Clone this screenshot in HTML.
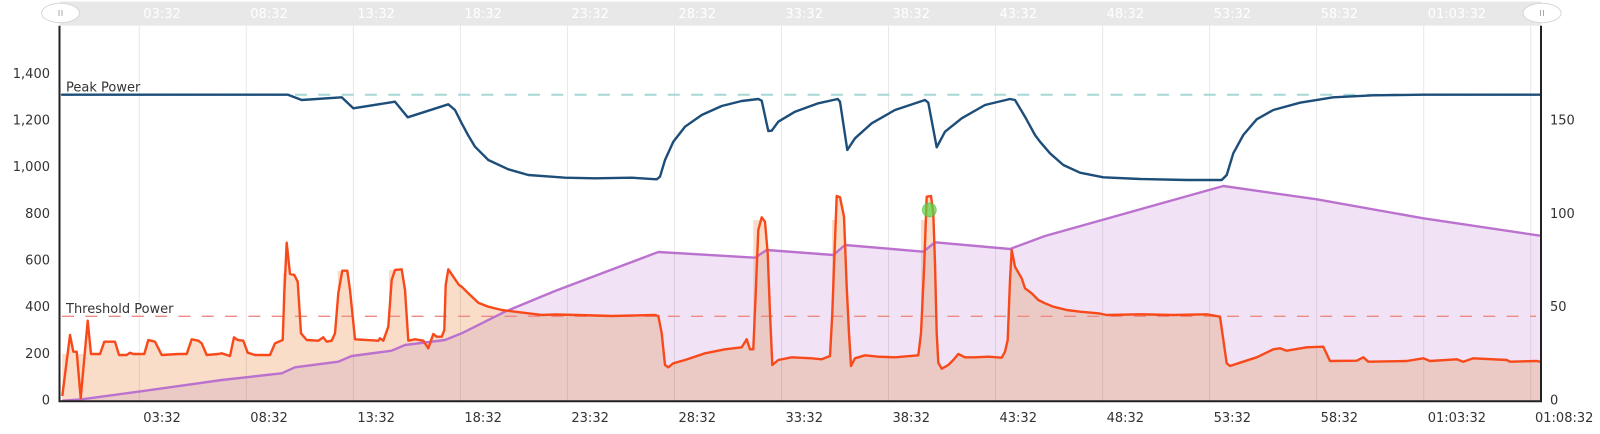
<!DOCTYPE html>
<html>
<head>
<meta charset="utf-8">
<style>
  html,body{margin:0;padding:0;background:#fff;}
  body{width:1600px;height:434px;overflow:hidden;}
  svg{display:block;}
  text{font-family:"DejaVu Sans","Liberation Sans",sans-serif;font-size:13px;}
</style>
</head>
<body>
<svg width="1600" height="434" viewBox="0 0 1600 434" xmlns="http://www.w3.org/2000/svg">
  <defs>
    <clipPath id="purpleClip">
      <polygon points="62.3,400.7 81.7,399.3 138.3,391.7 221.7,380 281.7,373.3 295,367.3 338.3,361.7 351.7,356 391.7,350.7 405,345 445,340 461.7,333.3 505,311.7 555,291 658.3,252 755,257.7 766.7,250 833.3,255 845,245 923.3,251.7 935,242.3 1010,249 1045,236 1223.3,186 1316.7,199.3 1423.3,218.3 1540,235.7 1540,401 62.3,401"/>
    </clipPath>
    <g id="peachShapes">
      <polygon points="62.3,396 70,335 73.3,351.7 76.7,351.7 80.7,398.3 87.7,320.7 91,354 100,354 104.3,341.7 115,341.7 119,355 126.7,355 130,352.7 133.3,354 144.3,354 148.3,340 155,341.7 161.7,355 178.3,354 186.7,354 191.7,339.3 198.3,340.7 201.7,343.3 206.7,355 218.3,354 221.7,353.3 230,356 234,337.3 237.7,340 243.3,340.7 247.7,352.7 255,355 270,355 275,343.3 282.7,340 284.3,293.3 286.7,242.7 290,274 294.3,275 297.7,281.7 301,333.3 306.7,340 318.3,340.7 323.3,337.3 326.7,341.7 331.7,340.7 335,333.3 338.3,293.3 342.3,270.7 347.3,270.7 350,290 355,339.3 378.3,340.7 380,338.3 383.3,340.7 388.3,326.7 391.7,280 395,270 401.7,269.3 405,290 408.3,340.7 415,339.3 423.3,340.7 428.3,348.3 433.3,334 436.7,336.7 441.7,336.7 444.3,330 445.7,285 448.3,269.3 453.3,276.7 459,285 461.7,286.7 468.3,293.3 478.3,302.7 488.3,306.7 501.7,310 515,311.7 528.3,313.3 541.7,315 555,314.5 578.3,315 611.7,316 655,315 658.3,316 661.7,333.3 665,365 668.3,367.3 673.3,363.3 685,360 705,353.3 725,349.3 741.7,347.3 746.7,339.3 750,349.3 753.3,349.3 755.7,293.3 758.3,230 761.7,217.3 765,221.7 767.7,253.3 770,313.3 772.3,365 778.3,360 791.7,357.3 811.7,358.3 821.7,359.3 830,356 832.3,313.3 835,240 836.7,196 840,197.3 844,216.7 846.7,286.7 849,333.3 851,366 855,358.3 865,355.3 878.3,356.7 895,357.3 918.3,355.3 921,333.3 924.3,263.3 926.7,196.7 931,196 933.3,213.3 935,263.3 936.7,333.3 938.3,362.7 941.7,368.7 948.3,365 953.3,360 958.3,354 965,357.3 975,357.3 988.3,356.7 1001.7,357.7 1005,351.7 1007.7,340 1010,280 1011.7,250 1015,266.7 1021.7,278.3 1025,288.3 1031.7,293.3 1038.3,300 1045,303.3 1053.3,306.7 1066.7,310 1080,311.7 1098.3,313.3 1106.7,315 1140,314.3 1173.3,315 1206.7,314.3 1220,316.7 1226.7,363.3 1230,366 1240,362.7 1256.7,357.3 1273.3,349.3 1280,348.3 1286.7,350.7 1306.7,347.3 1323.3,346.7 1330,361 1356.7,360.7 1363.3,357.3 1368.3,361.7 1406.7,361 1423.3,358.3 1430,361 1456.7,359.3 1463.3,361.7 1473.3,358.3 1506.7,360 1510,361.7 1536.7,361 1540,361.7 1540,401 62.3,401"/>
      <rect x="62.3" y="354" width="30" height="47"/>
      <rect x="282.7" y="273.3" width="13" height="128"/>
      <rect x="337.7" y="270.7" width="11" height="131"/>
      <rect x="389" y="270" width="13" height="131"/>
      <rect x="753.3" y="220" width="11.7" height="181"/>
      <rect x="832" y="220" width="12.3" height="181"/>
      <rect x="921" y="220" width="12.3" height="181"/>
    </g>
  </defs>

  <!-- navigator bar -->
  <rect x="60" y="1.5" width="1481" height="24.2" fill="#e8e8e8"/>
  <g fill="#ffffff">
    <text x="143.3" y="18">03:32</text>
    <text x="250.3" y="18">08:32</text>
    <text x="357.4" y="18">13:32</text>
    <text x="464.4" y="18">18:32</text>
    <text x="571.4" y="18">23:32</text>
    <text x="678.5" y="18">28:32</text>
    <text x="785.5" y="18">33:32</text>
    <text x="892.5" y="18">38:32</text>
    <text x="999.5" y="18">43:32</text>
    <text x="1106.6" y="18">48:32</text>
    <text x="1213.6" y="18">53:32</text>
    <text x="1320.6" y="18">58:32</text>
    <text x="1427.7" y="18">01:03:32</text>
  </g>

  <!-- lavender area (right axis series) -->
  <polygon fill="#f1e3f5" points="62.3,400.7 81.7,399.3 138.3,391.7 221.7,380 281.7,373.3 295,367.3 338.3,361.7 351.7,356 391.7,350.7 405,345 445,340 461.7,333.3 505,311.7 555,291 658.3,252 755,257.7 766.7,250 833.3,255 845,245 923.3,251.7 935,242.3 1010,249 1045,236 1223.3,186 1316.7,199.3 1423.3,218.3 1540,235.7 1540,401 62.3,401"/>

  <!-- peach area -->
  <use href="#peachShapes" fill="#f9ddc8"/>
  <!-- overlap (pink) -->
  <g clip-path="url(#purpleClip)">
    <use href="#peachShapes" fill="#ebcac5"/>
  </g>

  <!-- gridlines -->
  <g stroke="rgba(0,0,0,0.09)" stroke-width="1">
    <line x1="139.3" y1="25.7" x2="139.3" y2="401"/>
    <line x1="246.3" y1="25.7" x2="246.3" y2="401"/>
    <line x1="353.4" y1="25.7" x2="353.4" y2="401"/>
    <line x1="460.4" y1="25.7" x2="460.4" y2="401"/>
    <line x1="567.4" y1="25.7" x2="567.4" y2="401"/>
    <line x1="674.5" y1="25.7" x2="674.5" y2="401"/>
    <line x1="781.5" y1="25.7" x2="781.5" y2="401"/>
    <line x1="888.5" y1="25.7" x2="888.5" y2="401"/>
    <line x1="995.5" y1="25.7" x2="995.5" y2="401"/>
    <line x1="1102.6" y1="25.7" x2="1102.6" y2="401"/>
    <line x1="1209.6" y1="25.7" x2="1209.6" y2="401"/>
    <line x1="1316.6" y1="25.7" x2="1316.6" y2="401"/>
    <line x1="1423.7" y1="25.7" x2="1423.7" y2="401"/>
    <line x1="1530.7" y1="25.7" x2="1530.7" y2="401"/>
  </g>

  <!-- reference lines -->
  <line x1="62" y1="316.3" x2="1536" y2="316.3" stroke="#ee8a82" stroke-width="1.3" stroke-dasharray="12,11.3"/>
  <line x1="62" y1="94.7" x2="1536" y2="94.7" stroke="#a6d8d5" stroke-width="2" stroke-dasharray="12,11.3"/>

  <!-- peak power line -->
  <polyline fill="none" stroke="#1d4d79" stroke-width="2.4" stroke-linejoin="round" stroke-linecap="round" points="62,94.7 288,94.7 301.7,100 341.7,97.3 353.3,108.3 395,101.7 407.7,117.3 448.3,104.3 455,110 461.7,123.3 468,135 475,146.7 488.3,160 508.3,169.3 528.3,175 555,176.9 565,177.7 595,178.3 631.7,177.7 656.7,179.3 660,176.7 665,160 673.3,141.7 685,126.7 701.7,115 721.7,106 741.7,101 758.3,99 761.7,100.7 768.3,131 771.7,130.7 778.3,121.7 795,111.7 818.3,103.3 837.7,99 840,101.7 847.3,150 855,138.3 871.7,123.3 895,110 925,100 928.3,102.7 936.7,147.3 945,131.7 961.7,118.3 985,105 1010,99 1015,100 1025,116.7 1035,135 1040,141.7 1050,153.3 1063.3,165 1080,172.7 1103.3,177.3 1140,179 1186.7,180 1221.7,180 1226.7,175 1233.3,153.3 1243.3,135 1256.7,119.3 1273.3,110 1300,102.7 1333.3,97.3 1373.3,95.3 1423.3,94.7 1540,94.7"/>

  <!-- purple line -->
  <polyline fill="none" stroke="#bb72cf" stroke-width="2.4" stroke-linejoin="round" points="62.3,400.7 81.7,399.3 138.3,391.7 221.7,380 281.7,373.3 295,367.3 338.3,361.7 351.7,356 391.7,350.7 405,345 445,340 461.7,333.3 505,311.7 555,291 658.3,252 755,257.7 766.7,250 833.3,255 845,245 923.3,251.7 935,242.3 1010,249 1045,236 1223.3,186 1316.7,199.3 1423.3,218.3 1540,235.7"/>

  <!-- orange power line -->
  <polyline fill="none" stroke="#f8491b" stroke-width="2.4" stroke-linejoin="round" points="62.3,396 70,335 73.3,351.7 76.7,351.7 80.7,398.3 87.7,320.7 91,354 100,354 104.3,341.7 115,341.7 119,355 126.7,355 130,352.7 133.3,354 144.3,354 148.3,340 155,341.7 161.7,355 178.3,354 186.7,354 191.7,339.3 198.3,340.7 201.7,343.3 206.7,355 218.3,354 221.7,353.3 230,356 234,337.3 237.7,340 243.3,340.7 247.7,352.7 255,355 270,355 275,343.3 282.7,340 284.3,293.3 286.7,242.7 290,274 294.3,275 297.7,281.7 301,333.3 306.7,340 318.3,340.7 323.3,337.3 326.7,341.7 331.7,340.7 335,333.3 338.3,293.3 342.3,270.7 347.3,270.7 350,290 355,339.3 378.3,340.7 380,338.3 383.3,340.7 388.3,326.7 391.7,280 395,270 401.7,269.3 405,290 408.3,340.7 415,339.3 423.3,340.7 428.3,348.3 433.3,334 436.7,336.7 441.7,336.7 444.3,330 445.7,285 448.3,269.3 453.3,276.7 459,285 461.7,286.7 468.3,293.3 478.3,302.7 488.3,306.7 501.7,310 515,311.7 528.3,313.3 541.7,315 555,314.5 578.3,315 611.7,316 655,315 658.3,316 661.7,333.3 665,365 668.3,367.3 673.3,363.3 685,360 705,353.3 725,349.3 741.7,347.3 746.7,339.3 750,349.3 753.3,349.3 755.7,293.3 758.3,230 761.7,217.3 765,221.7 767.7,253.3 770,313.3 772.3,365 778.3,360 791.7,357.3 811.7,358.3 821.7,359.3 830,356 832.3,313.3 835,240 836.7,196 840,197.3 844,216.7 846.7,286.7 849,333.3 851,366 855,358.3 865,355.3 878.3,356.7 895,357.3 918.3,355.3 921,333.3 924.3,263.3 926.7,196.7 931,196 933.3,213.3 935,263.3 936.7,333.3 938.3,362.7 941.7,368.7 948.3,365 953.3,360 958.3,354 965,357.3 975,357.3 988.3,356.7 1001.7,357.7 1005,351.7 1007.7,340 1010,280 1011.7,250 1015,266.7 1021.7,278.3 1025,288.3 1031.7,293.3 1038.3,300 1045,303.3 1053.3,306.7 1066.7,310 1080,311.7 1098.3,313.3 1106.7,315 1140,314.3 1173.3,315 1206.7,314.3 1220,316.7 1226.7,363.3 1230,366 1240,362.7 1256.7,357.3 1273.3,349.3 1280,348.3 1286.7,350.7 1306.7,347.3 1323.3,346.7 1330,361 1356.7,360.7 1363.3,357.3 1368.3,361.7 1406.7,361 1423.3,358.3 1430,361 1456.7,359.3 1463.3,361.7 1473.3,358.3 1506.7,360 1510,361.7 1536.7,361 1540,361.7"/>

  <!-- marker -->
  <circle cx="929.3" cy="210" r="7" fill="rgba(90,214,70,0.72)" stroke="rgba(70,180,60,0.5)" stroke-width="1"/>

  <!-- plot labels -->
  <text x="66" y="91.3" fill="#333">Peak Power</text>
  <text x="66" y="313" fill="#333">Threshold Power</text>

  <!-- axes -->
  <line x1="59.5" y1="25.7" x2="59.5" y2="402" stroke="#222" stroke-width="2"/>
  <line x1="1541" y1="25.7" x2="1541" y2="402" stroke="#222" stroke-width="2"/>
  <line x1="58.5" y1="401.2" x2="1542" y2="401.2" stroke="#222" stroke-width="2"/>

  <!-- left axis labels -->
  <g fill="#333" text-anchor="end">
    <text x="50" y="404.5">0</text>
    <text x="50" y="357.8">200</text>
    <text x="50" y="311.2">400</text>
    <text x="50" y="264.5">600</text>
    <text x="50" y="217.8">800</text>
    <text x="50" y="171.2">1,000</text>
    <text x="50" y="124.5">1,200</text>
    <text x="50" y="77.8">1,400</text>
  </g>

  <!-- right axis labels -->
  <g fill="#333">
    <text x="1550" y="404.5">0</text>
    <text x="1550" y="311.2">50</text>
    <text x="1550" y="217.8">100</text>
    <text x="1550" y="124.5">150</text>
  </g>

  <!-- bottom axis labels -->
  <g fill="#333">
    <text x="143.3" y="422">03:32</text>
    <text x="250.3" y="422">08:32</text>
    <text x="357.4" y="422">13:32</text>
    <text x="464.4" y="422">18:32</text>
    <text x="571.4" y="422">23:32</text>
    <text x="678.5" y="422">28:32</text>
    <text x="785.5" y="422">33:32</text>
    <text x="892.5" y="422">38:32</text>
    <text x="999.5" y="422">43:32</text>
    <text x="1106.6" y="422">48:32</text>
    <text x="1213.6" y="422">53:32</text>
    <text x="1320.6" y="422">58:32</text>
    <text x="1427.7" y="422">01:03:32</text>
    <text x="1535" y="422">01:08:32</text>
  </g>

  <!-- navigator handles -->
  <g>
    <ellipse cx="60.5" cy="13" rx="19" ry="9.7" fill="#ffffff" stroke="#d6d6d6" stroke-width="1"/>
    <line x1="59" y1="10" x2="59" y2="16" stroke="#aaa" stroke-width="1"/>
    <line x1="62" y1="10" x2="62" y2="16" stroke="#aaa" stroke-width="1"/>
    <ellipse cx="1542" cy="13" rx="19" ry="9.7" fill="#ffffff" stroke="#d6d6d6" stroke-width="1"/>
    <line x1="1540.5" y1="10" x2="1540.5" y2="16" stroke="#aaa" stroke-width="1"/>
    <line x1="1543.5" y1="10" x2="1543.5" y2="16" stroke="#aaa" stroke-width="1"/>
  </g>
</svg>
</body>
</html>
